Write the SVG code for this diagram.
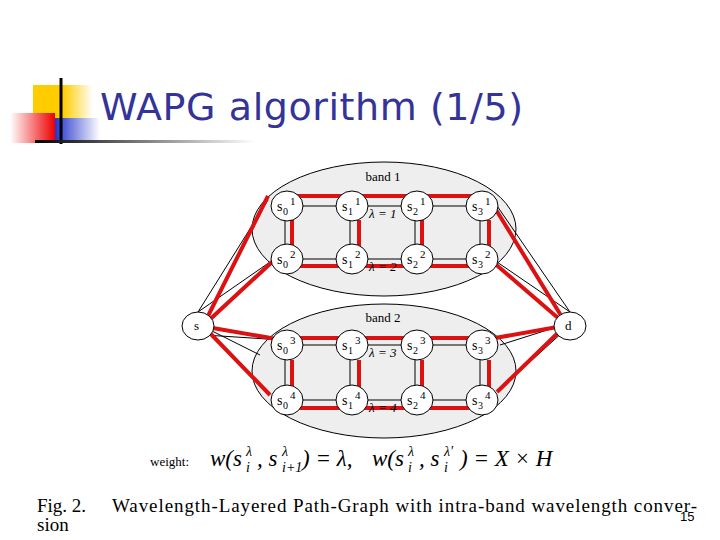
<svg xmlns="http://www.w3.org/2000/svg" width="720" height="540" viewBox="0 0 720 540">
<defs>
<linearGradient id="rg" x1="0" x2="1"><stop offset="0" stop-color="#fff"/><stop offset="1" stop-color="#e00"/></linearGradient>
<linearGradient id="bg" x1="0" x2="1"><stop offset="0" stop-color="#2233cc"/><stop offset="1" stop-color="#fff"/></linearGradient>
<linearGradient id="yg" x1="0" x2="1"><stop offset="0.5" stop-color="#ffcc00"/><stop offset="1" stop-color="#fff"/></linearGradient>
<linearGradient id="lg" x1="0" x2="1"><stop offset="0" stop-color="#000"/><stop offset="1" stop-color="#fff"/></linearGradient>
</defs>
<style>
.nd{fill:#fff;stroke:#000;stroke-width:1}
.t{font-family:"Liberation Serif",serif;font-size:13px;fill:#000}
.blk{stroke:#000;stroke-width:1;fill:none}
.red{stroke:#dd1111;stroke-width:4;fill:none}
.s{font-family:"Liberation Serif",serif;font-size:14px}
.sb{font-family:"Liberation Serif",serif;font-size:10px}
.sp{font-family:"Liberation Serif",serif;font-size:11px}
.f{font-family:"Liberation Serif",serif;font-size:23px;font-style:italic}
.fs{font-family:"Liberation Serif",serif;font-size:14px;font-style:italic}
</style>
<rect width="720" height="540" fill="#fff"/>
<g id="logo">
<rect x="33" y="85" width="60" height="40" fill="url(#yg)"/>
<rect x="55" y="118" width="45" height="25" fill="url(#bg)"/>
<rect x="10" y="113" width="45" height="30" fill="url(#rg)"/>
<line x1="61" y1="78" x2="61" y2="144" stroke="#000" stroke-width="3"/>
<rect x="35" y="140" width="220" height="3" fill="url(#lg)"/>
</g>
<text x="100" y="120" font-family="DejaVu Sans,sans-serif" font-size="38" textLength="423" fill="#333399">WAPG algorithm (1/5)</text>
<g id="bands">
<ellipse cx="384" cy="229" rx="132" ry="67" fill="#eeeeee" stroke="#000"/>
<ellipse cx="384" cy="371" rx="132" ry="67" fill="#eeeeee" stroke="#000"/>
<text x="383" y="181" text-anchor="middle" class="t" font-size="13">band 1</text>
<text x="383" y="322" text-anchor="middle" class="t" font-size="13">band 2</text>
</g>
<g id="connectors">
<g class="blk">
<path d="M198 312 L268 200 M198 312 L270 262 M205 330 L270 395 M210 330 L260 355 M205 335 L282 340"/>
<path d="M570 312 L493 200 M570 312 L497 262 M565 330 L497 392 M560 326 L500 345"/>
<path d="M287 206 H482 M287 259 H482 M287 345 H482 M287 400 H482"/>
<path d="M285 206 V259 M350 206 V259 M415 206 V259 M480 206 V259 M285 345 V400 M350 345 V400 M415 345 V400 M480 345 V400"/>
</g>
<g class="red">
<path d="M297 196 H475 M297 266 H475 M297 338 H475 M297 408 H475"/>
<path d="M292 220 V255 M359 220 V255 M422 220 V255 M489 220 V255 M292 360 V395 M359 360 V395 M422 360 V395 M489 360 V395"/>
<path d="M205 322 L268 196 M205 324 L272 262 M207 327 L282 340 M207 330 L270 395"/>
<path d="M565 322 L490 200 M565 324 L493 262 M563 326 L495 338 M563 328 L497 392"/>
</g>
</g>
<g id="nodes">
<ellipse class="nd" cx="198" cy="326" rx="16" ry="14"/><text class="t" x="194" y="330">s</text>
<ellipse class="nd" cx="570" cy="326" rx="16" ry="14"/><text class="t" x="565" y="330">d</text>
<g id="n01"><ellipse class="nd" cx="287" cy="206" rx="16" ry="15"/><text class="s" x="277" y="211">s</text><text class="sb" x="283" y="215">0</text><text class="sp" x="290" y="205">1</text></g>
<g id="n11"><ellipse class="nd" cx="352" cy="206" rx="16" ry="15"/><text class="s" x="342" y="211">s</text><text class="sb" x="348" y="215">1</text><text class="sp" x="355" y="205">1</text></g>
<g id="n21"><ellipse class="nd" cx="417" cy="206" rx="16" ry="15"/><text class="s" x="407" y="211">s</text><text class="sb" x="413" y="215">2</text><text class="sp" x="420" y="205">1</text></g>
<g id="n31"><ellipse class="nd" cx="482" cy="206" rx="16" ry="15"/><text class="s" x="472" y="211">s</text><text class="sb" x="478" y="215">3</text><text class="sp" x="485" y="205">1</text></g>
<g id="n02"><ellipse class="nd" cx="287" cy="259" rx="16" ry="15"/><text class="s" x="277" y="264">s</text><text class="sb" x="283" y="268">0</text><text class="sp" x="290" y="258">2</text></g>
<g id="n12"><ellipse class="nd" cx="352" cy="259" rx="16" ry="15"/><text class="s" x="342" y="264">s</text><text class="sb" x="348" y="268">1</text><text class="sp" x="355" y="258">2</text></g>
<g id="n22"><ellipse class="nd" cx="417" cy="259" rx="16" ry="15"/><text class="s" x="407" y="264">s</text><text class="sb" x="413" y="268">2</text><text class="sp" x="420" y="258">2</text></g>
<g id="n32"><ellipse class="nd" cx="482" cy="259" rx="16" ry="15"/><text class="s" x="472" y="264">s</text><text class="sb" x="478" y="268">3</text><text class="sp" x="485" y="258">2</text></g>
<g id="n03"><ellipse class="nd" cx="287" cy="345" rx="16" ry="15"/><text class="s" x="277" y="350">s</text><text class="sb" x="283" y="354">0</text><text class="sp" x="290" y="344">3</text></g>
<g id="n13"><ellipse class="nd" cx="352" cy="345" rx="16" ry="15"/><text class="s" x="342" y="350">s</text><text class="sb" x="348" y="354">1</text><text class="sp" x="355" y="344">3</text></g>
<g id="n23"><ellipse class="nd" cx="417" cy="345" rx="16" ry="15"/><text class="s" x="407" y="350">s</text><text class="sb" x="413" y="354">2</text><text class="sp" x="420" y="344">3</text></g>
<g id="n33"><ellipse class="nd" cx="482" cy="345" rx="16" ry="15"/><text class="s" x="472" y="350">s</text><text class="sb" x="478" y="354">3</text><text class="sp" x="485" y="344">3</text></g>
<g id="n04"><ellipse class="nd" cx="287" cy="400" rx="16" ry="15"/><text class="s" x="277" y="405">s</text><text class="sb" x="283" y="409">0</text><text class="sp" x="290" y="399">4</text></g>
<g id="n14"><ellipse class="nd" cx="352" cy="400" rx="16" ry="15"/><text class="s" x="342" y="405">s</text><text class="sb" x="348" y="409">1</text><text class="sp" x="355" y="399">4</text></g>
<g id="n24"><ellipse class="nd" cx="417" cy="400" rx="16" ry="15"/><text class="s" x="407" y="405">s</text><text class="sb" x="413" y="409">2</text><text class="sp" x="420" y="399">4</text></g>
<g id="n34"><ellipse class="nd" cx="482" cy="400" rx="16" ry="15"/><text class="s" x="472" y="405">s</text><text class="sb" x="478" y="409">3</text><text class="sp" x="485" y="399">4</text></g>
<g font-family="Liberation Serif,serif" font-size="13" font-style="italic">
<text x="369" y="218">λ = 1</text>
<text x="369" y="271">λ = 2</text>
<text x="369" y="357">λ = 3</text>
<text x="369" y="412">λ = 4</text>
</g>
</g>
<g id="formula" fill="#000">
<text x="150" y="466" font-family="Liberation Serif,serif" font-size="13">weight:</text>
<text class="f" x="210" y="466">w(s</text><text class="fs" x="246" y="472">i</text><text class="fs" x="246" y="456">λ</text>
<text class="f" x="257" y="466">, s</text><text class="fs" x="282" y="472">i+1</text><text class="fs" x="282" y="456">λ</text>
<text class="f" x="302" y="466">) = λ,</text>
<text class="f" x="372" y="466">w(s</text><text class="fs" x="408" y="472">i</text><text class="fs" x="408" y="456">λ</text>
<text class="f" x="419" y="466">, s</text><text class="fs" x="444" y="472">i</text><text class="fs" x="444" y="456">λ'</text>
<text class="f" x="460" y="466">) = X × H</text>
</g>
<g font-family="Liberation Serif,serif" font-size="19" fill="#000">
<text x="37" y="512">Fig. 2.</text>
<text x="112" y="512" textLength="585">Wavelength-Layered Path-Graph with intra-band wavelength conver-</text>
<text x="37" y="531">sion</text>
</g>
<text x="680" y="521" font-family="Liberation Sans,sans-serif" font-size="13" fill="#000">15</text>
</svg>
